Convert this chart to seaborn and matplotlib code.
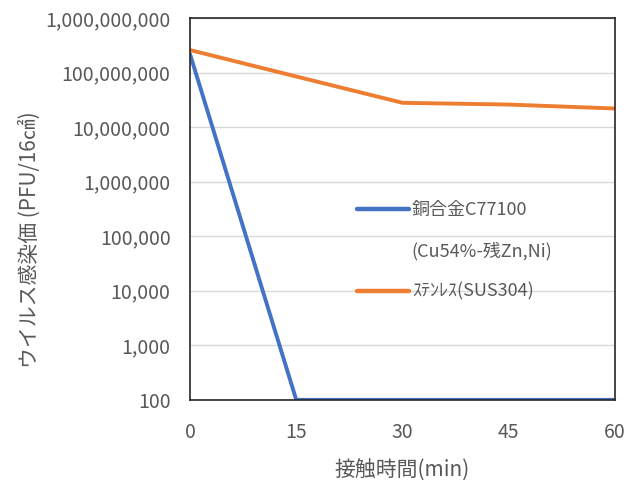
import numpy as np
import pandas as pd
import matplotlib
matplotlib.use("Agg")
import matplotlib.pyplot as plt
import matplotlib.ticker as mticker
from matplotlib.lines import Line2D
import seaborn as sns

# contact time (min)
minutes = [0, 15, 30, 45, 60]
# virus titer (PFU/16cm2)
copper = [2.2e8, 100, 100, 100, 100]
stainless = [2.6e8, 8.5e7, 2.8e7, 2.6e7, 2.2e7]
series_names = ["銅合金C77100", "ｽﾃﾝﾚｽ(SUS304)"]
copper_note = "(Cu54%-残Zn,Ni)"
y_ticks = [1e2, 1e3, 1e4, 1e5, 1e6, 1e7, 1e8, 1e9]
x_ticks = [0, 15, 30, 45, 60]

df = pd.DataFrame({
    "min": minutes * 2,
    "value": copper + stainless,
    "material": [series_names[0]] * len(minutes) + [series_names[1]] * len(minutes),
})

sns.set_style("white")
plt.rcParams["font.family"] = ["Noto Sans CJK JP", "DejaVu Sans"]
text_color = "#595959"

fig = plt.figure(figsize=(6.28, 4.9), dpi=100)
ax = fig.add_axes([0.3025, 0.184, 0.677, 0.779])

sns.lineplot(data=df, x="min", y="value", hue="material",
             palette=["#4472C4", "#ED7D31"], linewidth=2.8, ax=ax, legend=False)

ax.set_yscale("log")
ax.set_ylim(100, 1e9)
ax.set_xlim(0, 60)
ax.set_yticks(y_ticks)
ax.yaxis.set_major_formatter(mticker.FuncFormatter(lambda v, p: f"{int(round(v)):,}"))
ax.yaxis.set_minor_locator(mticker.NullLocator())
ax.set_xticks(x_ticks)
ax.grid(axis="y", color="#d9d9d9", linewidth=1)
ax.tick_params(colors=text_color, labelsize=14, length=0)
ax.tick_params(axis="y", pad=14)
ax.tick_params(axis="x", pad=16)
for s in ax.spines.values():
    s.set_color("#262626")
    s.set_linewidth(1.2)

ax.set_xlabel("接触時間(min)", fontsize=15, color=text_color, labelpad=12)
ax.set_ylabel("ウイルス感染価 (PFU/16㎠)", fontsize=15, color=text_color)
ax.yaxis.set_label_coords(-0.35, 0.42)

handles = [Line2D([], [], color="#4472C4", linewidth=3.2),
           Line2D([], [], color="none"),
           Line2D([], [], color="#ED7D31", linewidth=3.2)]
labels = [series_names[0], copper_note, series_names[1]]
leg = ax.legend(handles, labels, frameon=False, loc="upper left",
                bbox_to_anchor=(0.375, 0.54), fontsize=13,
                handlelength=2.9, handletextpad=0.15, labelspacing=1.25,
                borderaxespad=0)
for t in leg.get_texts():
    t.set_color(text_color)

fig.savefig("out.png", dpi=100)
